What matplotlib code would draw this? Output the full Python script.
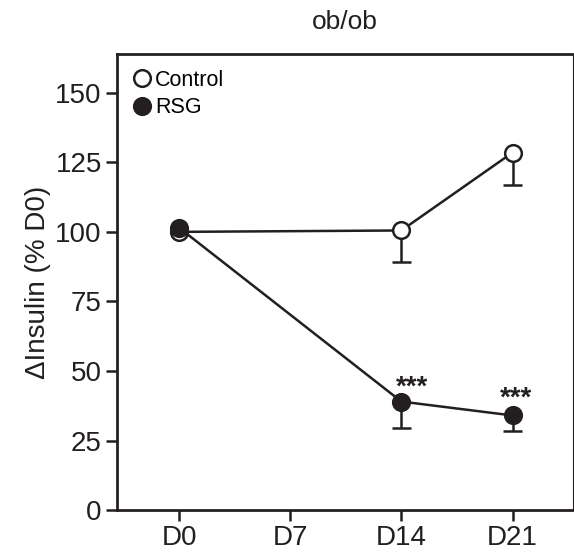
import matplotlib
matplotlib.use("Agg")
import matplotlib.pyplot as plt
import numpy as np
from matplotlib.lines import Line2D

plt.rcParams["font.family"] = ["Liberation Sans", "DejaVu Sans"]

days = [0, 14, 21]
control_mean = [100, 100.5, 128.5]
control_err = [0, 11.5, 11.5]
rsg_mean = [101.5, 39, 34]
rsg_err = [0, 9.5, 5.5]
star_x = [14.7, 21.2]
star_y = [44, 40]
xtick_days = [0, 7, 14, 21]
xtick_labels = ["D0", "D7", "D14", "D21"]
yticks = [0, 25, 50, 75, 100, 125, 150]

ink = "#231f20"
lw = 1.8

fig = plt.figure(figsize=(5.74, 5.55), dpi=100)
ax = fig.add_axes([0.204, 0.081, 0.794, 0.822])


def lower_errors(x, mean, err):
    # one-sided (downward) error bars, skipped where err is 0
    x = np.asarray(x, float)
    mean = np.asarray(mean, float)
    err = np.asarray(err, float)
    keep = err > 0
    ax.vlines(x[keep], mean[keep] - err[keep], mean[keep], color=ink, lw=lw, zorder=2)
    ax.hlines(mean[keep] - err[keep], x[keep] - 0.6, x[keep] + 0.6, color=ink, lw=lw, zorder=2)


lower_errors(days, rsg_mean, rsg_err)
lower_errors(days, control_mean, control_err)
ax.plot(days, control_mean, "o-", color=ink, mfc="white", mec=ink, ms=12, mew=1.8, lw=lw, zorder=3)
ax.plot(days, rsg_mean, "o-", color=ink, mfc=ink, mec=ink, ms=12, mew=1.8, lw=lw, zorder=4)

for x, y in zip(star_x, star_y):
    ax.text(x, y, "***", ha="center", va="center", fontsize=20,
            fontweight="bold", color=ink)

ax.set_xlim(-3.9, 24.8)
ax.set_ylim(0, 164)
ax.set_xticks(xtick_days)
ax.set_xticklabels(xtick_labels)
ax.set_yticks(yticks)
ax.tick_params(axis="both", labelsize=20, length=8, width=lw, color=ink,
               labelcolor=ink, pad=3)
for side in ["left", "bottom", "top"]:
    ax.spines[side].set_linewidth(lw * 1.1)
    ax.spines[side].set_color(ink)
ax.spines["right"].set_linewidth(0.8)
ax.spines["right"].set_color(ink)

ax.set_ylabel("\u0394Insulin (% D0)", fontsize=20, color=ink, labelpad=3)
ax.set_title("ob/ob", fontsize=19, color=ink, pad=18)

handles = [
    Line2D([], [], ls="none", marker="o", ms=12, mfc="white", mec=ink, mew=1.8),
    Line2D([], [], ls="none", marker="o", ms=12, mfc=ink, mec=ink, mew=1.8),
]
ax.legend(handles, ["Control", "RSG"], loc="upper left", frameon=False, fontsize=15.5,
          handlelength=0.8, handletextpad=0.2, labelspacing=0.3,
          borderaxespad=0.35, bbox_to_anchor=(0.0, 1.0))

fig.savefig("out.png", dpi=100)
